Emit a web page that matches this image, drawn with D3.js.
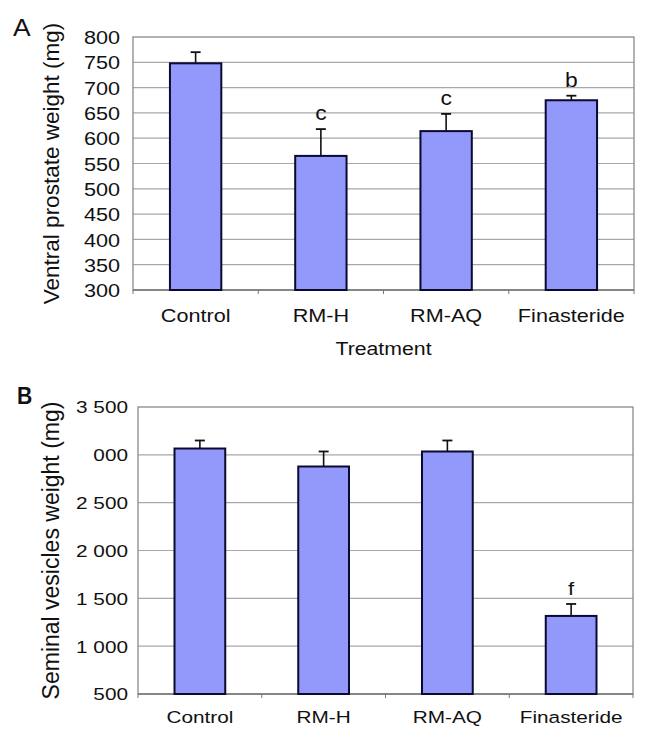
<!DOCTYPE html>
<html>
<head>
<meta charset="utf-8">
<script src="https://cdn.jsdelivr.net/npm/d3@7"></script>
<style>
  body { margin: 0; background: #fff; }
  text { font-family: "Liberation Sans", Arial, sans-serif; fill: #111; }
</style>
</head>
<body>
<div id="chart"></div>
<script>
// Data
const categories = ['Control', 'RM-H', 'RM-AQ', 'Finasteride'];

const prostateMean = [748, 565, 614, 675];
const prostateErr = [22, 53, 34, 9];
const prostateMarks = ['', 'c', 'c', 'b'];
const prostateTicks = [300, 350, 400, 450, 500, 550, 600, 650, 700, 750, 800];

const vesicleMean = [3066, 2878, 3035, 1316];
const vesicleErr = [84, 157, 115, 125];
const vesicleMarks = ['', '', '', 'f'];
const vesicleTicks = [500, 1000, 1500, 2000, 2500, 3000, 3500];
const vesicleTickLabels = ['500', '1 000', '1 500', '2 000', '2 500', '000', '3 500'];

const width = 655, height = 736;

const svg = d3.select('#chart').append('svg')
    .attr('width', width)
    .attr('height', height);

function drawPanel(opts) {
    const { box, mean, err, marks, ticks, tickFormat, domain, yTitle, letter, fontSize, stretch } = opts;

    const x = d3.scaleBand()
        .domain(categories)
        .range([box.left, box.right])
        .paddingInner(0.59)
        .paddingOuter(0.295);

    const y = d3.scaleLinear()
        .domain(domain)
        .range([box.bottom, box.top]);

    const g = svg.append('g');

    // gridlines
    g.append('g')
        .selectAll('line')
        .data(ticks.slice(1, -1))
        .join('line')
        .attr('x1', box.left)
        .attr('x2', box.right)
        .attr('y1', d => y(d))
        .attr('y2', d => y(d))
        .attr('stroke', '#a8a8a8')
        .attr('stroke-width', 1.2);

    // plot frame
    g.append('rect')
        .attr('x', box.left)
        .attr('y', box.top)
        .attr('width', box.right - box.left)
        .attr('height', box.bottom - box.top)
        .attr('fill', 'none')
        .attr('stroke', '#8a8a8a')
        .attr('stroke-width', 1.3);

    // y axis labels
    const yAxis = g.append('g')
        .attr('transform', `translate(${box.left},0)`)
        .call(d3.axisLeft(y).tickValues(ticks).tickSize(0).tickPadding(0).tickFormat(tickFormat));
    yAxis.select('.domain').remove();
    yAxis.selectAll('text')
        .attr('x', -(box.left - opts.labelRight) / stretch)
        .attr('dy', '0.36em')
        .attr('transform', `scale(${stretch},1)`)
        .style('font-size', fontSize + 'px')
        .style('font-family', '"Liberation Sans", Arial, sans-serif')
        .attr('fill', '#111');

    // x axis: line with small ticks between categories
    g.append('line')
        .attr('x1', box.left).attr('x2', box.right)
        .attr('y1', box.bottom).attr('y2', box.bottom)
        .attr('stroke', '#777').attr('stroke-width', 1.3);
    const step = x.step();
    g.append('g')
        .selectAll('line')
        .data(d3.range(categories.length + 1))
        .join('line')
        .attr('x1', i => box.left + i * step)
        .attr('x2', i => box.left + i * step)
        .attr('y1', box.bottom)
        .attr('y2', box.bottom + 4)
        .attr('stroke', '#777');

    // category labels
    g.append('g')
        .selectAll('text')
        .data(categories)
        .join('text')
        .attr('transform', d => `translate(${x(d) + x.bandwidth() / 2},${opts.catBaseline}) scale(${stretch},1)`)
        .attr('text-anchor', 'middle')
        .style('font-size', fontSize + 'px')
        .text(d => d);

    // bars
    g.append('g')
        .selectAll('rect')
        .data(mean)
        .join('rect')
        .attr('x', (d, i) => x(categories[i]))
        .attr('y', d => y(d))
        .attr('width', x.bandwidth())
        .attr('height', d => box.bottom - y(d))
        .attr('fill', '#9299fb')
        .attr('stroke', '#0a0a30')
        .attr('stroke-width', 2);

    // error bars (upper only)
    const eb = g.append('g')
        .selectAll('g')
        .data(mean)
        .join('g')
        .attr('transform', (d, i) => `translate(${x(categories[i]) + x.bandwidth() / 2},0)`);
    eb.append('line')
        .attr('y1', d => y(d))
        .attr('y2', (d, i) => y(d + err[i]))
        .attr('stroke', '#111')
        .attr('stroke-width', 1.6);
    eb.append('line')
        .attr('x1', -5).attr('x2', 5)
        .attr('y1', (d, i) => y(d + err[i]))
        .attr('y2', (d, i) => y(d + err[i]))
        .attr('stroke', '#111')
        .attr('stroke-width', 1.8);

    // significance letters
    g.append('g')
        .selectAll('text')
        .data(mean)
        .join('text')
        .attr('transform', (d, i) => `translate(${x(categories[i]) + x.bandwidth() / 2},${y(d + err[i]) - 9}) scale(${stretch},1)`)
        .attr('text-anchor', 'middle')
        .style('font-size', (fontSize + 1) + 'px')
        .text((d, i) => marks[i]);

    // y title
    g.append('text')
        .attr('transform', `translate(${opts.yTitleX},${(box.top + box.bottom) / 2}) rotate(-90)`)
        .attr('text-anchor', 'middle')
        .style('font-size', opts.yTitleSize + 'px')
        .text(yTitle);

    // panel letter
    g.append('text')
        .attr('transform', `translate(${opts.letterPos[0]},${opts.letterPos[1]}) scale(${opts.letterStretch},1)`)
        .style('font-size', opts.letterSize + 'px')
        .style('font-weight', opts.letterWeight)
        .text(letter);

    return { x, y, g };
}

const panelA = drawPanel({
    box: { left: 133, right: 634, top: 37, bottom: 290 },
    mean: prostateMean, err: prostateErr, marks: prostateMarks,
    ticks: prostateTicks, tickFormat: d3.format('d'), domain: [300, 800],
    yTitle: 'Ventral prostate weight (mg)', yTitleSize: 22.5, yTitleX: 59,
    letter: 'A', letterPos: [13, 36], letterSize: 24, letterStretch: 1.1, letterWeight: 'normal',
    fontSize: 18.5, stretch: 1.17, labelRight: 120, catBaseline: 322
});

panelA.g.append('text')
    .attr('transform', `translate(${(133 + 634) / 2},355) scale(1.15,1)`)
    .attr('text-anchor', 'middle')
    .style('font-size', '18.5px')
    .text('Treatment');

drawPanel({
    box: { left: 138, right: 633, top: 407, bottom: 694 },
    mean: vesicleMean, err: vesicleErr, marks: vesicleMarks,
    ticks: vesicleTicks, tickFormat: (d, i) => vesicleTickLabels[i], domain: [500, 3500],
    yTitle: 'Seminal vesicles weight (mg)', yTitleSize: 23, yTitleX: 59,
    letter: 'B', letterPos: [17, 404], letterSize: 23.5, letterStretch: 0.9, letterWeight: 'bold',
    fontSize: 16.5, stretch: 1.26, labelRight: 128, catBaseline: 723
});
</script>
</body>
</html>
